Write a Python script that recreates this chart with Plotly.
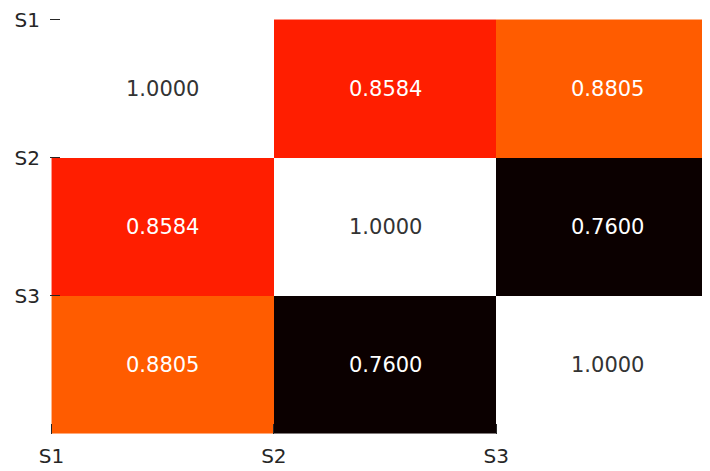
import plotly.graph_objects as go

labels = ["S1", "S2", "S3"]
values = [
    [1.0000, 0.8584, 0.8805],
    [0.8584, 1.0000, 0.7600],
    [0.8805, 0.7600, 1.0000],
]
x_centers = [0.5, 1.5, 2.5]
y_centers = [0.5, 1.5, 2.5]
edge_ticks = [0, 1, 2]

hot = [
    [0.0, "rgb(11,0,0)"],
    [0.365079, "rgb(255,0,0)"],
    [0.746032, "rgb(255,255,0)"],
    [1.0, "rgb(255,255,255)"],
]

vmin = min(min(r) for r in values)
vmax = max(max(r) for r in values)

fig = go.Figure(go.Heatmap(
    z=values, x=x_centers, y=y_centers,
    colorscale=hot, zmin=vmin, zmax=vmax, showscale=False,
    hoverinfo="skip",
))

for i, row in enumerate(values):
    for j, v in enumerate(row):
        frac = (v - vmin) / (vmax - vmin)
        color = "#333333" if frac > 0.8 else "#ffffff"
        fig.add_annotation(x=x_centers[j], y=y_centers[i], text=f"{v:.4f}",
                           showarrow=False, font=dict(family="DejaVu Sans", size=21, color=color))

fig.update_layout(
    width=710, height=463,
    margin=dict(l=41.5, r=0, t=10, b=37, autoexpand=False),
    plot_bgcolor="white", paper_bgcolor="white",
    font=dict(family="DejaVu Sans", size=20, color="#262626"),
    xaxis=dict(range=[-0.007, 2.998], tickvals=edge_ticks, ticktext=labels,
               ticks="inside", ticklen=10, tickwidth=1.2, tickcolor="#262626",
               ticklabelstandoff=8, ticklabeloverflow="allow",
               automargin=False, layer="above traces",
               showgrid=False, zeroline=False, showline=False),
    yaxis=dict(range=[3, -0.011], tickvals=edge_ticks, ticktext=labels,
               ticks="inside", ticklen=10, tickwidth=1.2, tickcolor="#262626",
               ticklabelstandoff=9, ticklabeloverflow="allow",
               automargin=False, layer="above traces",
               showgrid=False, zeroline=False, showline=False),
)

fig.write_html("out.html")
